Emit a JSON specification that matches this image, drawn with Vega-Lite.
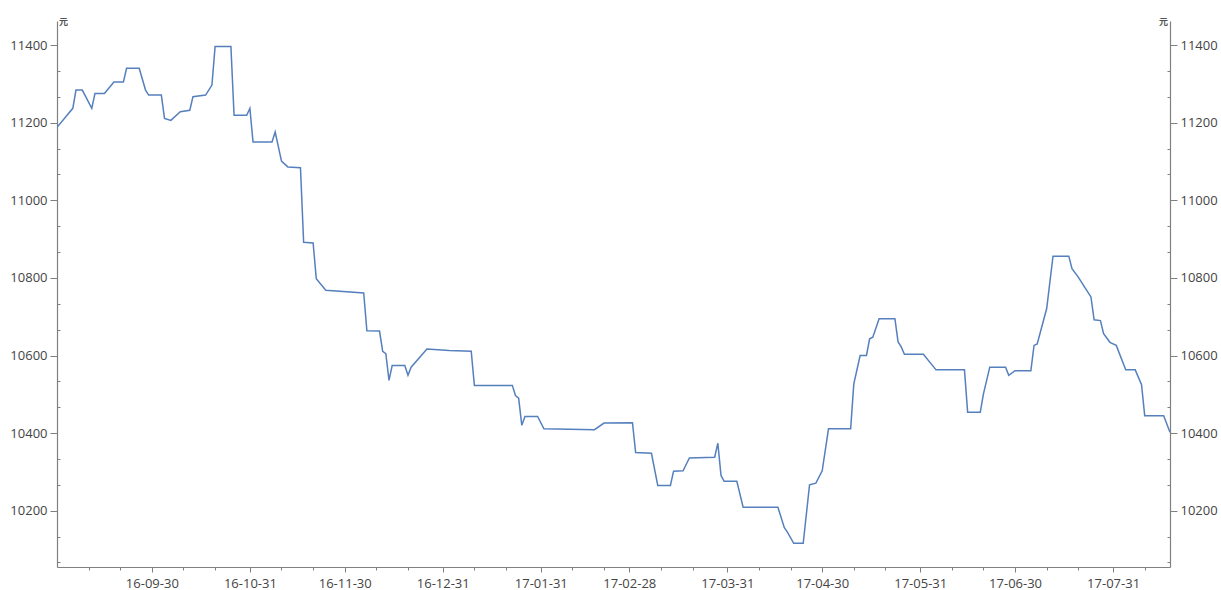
{
  "$schema": "https://vega.github.io/schema/vega-lite/v6.json",
  "autosize": {"type": "none"},
  "padding": {"left": 57, "top": 21, "right": 51, "bottom": 23},
  "width": 1113,
  "height": 546,
  "background": "white",
  "config": {
    "view": {"stroke": null},
    "axis": {
      "grid": false,
      "domainColor": "#808080",
      "domainWidth": 1.2,
      "tickColor": "#808080",
      "tickWidth": 1,
      "labelFont": "Open Sans",
      "labelFontSize": 13,
      "labelColor": "#444444",
      "titleFont": "Noto Sans CJK SC",
      "titleColor": "#555555"
    }
  },
  "data": {
    "values": [
      {"date": "2016-08-31", "price": 11188},
      {"date": "2016-09-05", "price": 11237},
      {"date": "2016-09-06", "price": 11284},
      {"date": "2016-09-08", "price": 11284},
      {"date": "2016-09-11", "price": 11237},
      {"date": "2016-09-12", "price": 11275},
      {"date": "2016-09-15", "price": 11275},
      {"date": "2016-09-18", "price": 11305},
      {"date": "2016-09-21", "price": 11305},
      {"date": "2016-09-22", "price": 11340},
      {"date": "2016-09-26", "price": 11340},
      {"date": "2016-09-28", "price": 11284},
      {"date": "2016-09-29", "price": 11271},
      {"date": "2016-10-03", "price": 11271},
      {"date": "2016-10-04", "price": 11211},
      {"date": "2016-10-06", "price": 11206},
      {"date": "2016-10-09", "price": 11228},
      {"date": "2016-10-12", "price": 11232},
      {"date": "2016-10-13", "price": 11267},
      {"date": "2016-10-17", "price": 11271},
      {"date": "2016-10-19", "price": 11297},
      {"date": "2016-10-20", "price": 11396},
      {"date": "2016-10-25", "price": 11396},
      {"date": "2016-10-26", "price": 11219},
      {"date": "2016-10-30", "price": 11219},
      {"date": "2016-10-31", "price": 11237},
      {"date": "2016-11-01", "price": 11150},
      {"date": "2016-11-07", "price": 11150},
      {"date": "2016-11-08", "price": 11176},
      {"date": "2016-11-10", "price": 11101},
      {"date": "2016-11-12", "price": 11086},
      {"date": "2016-11-16", "price": 11084},
      {"date": "2016-11-17", "price": 10892},
      {"date": "2016-11-20", "price": 10890},
      {"date": "2016-11-21", "price": 10798},
      {"date": "2016-11-24", "price": 10768},
      {"date": "2016-12-06", "price": 10761},
      {"date": "2016-12-07", "price": 10664},
      {"date": "2016-12-11", "price": 10663},
      {"date": "2016-12-12", "price": 10611},
      {"date": "2016-12-13", "price": 10605},
      {"date": "2016-12-14", "price": 10536},
      {"date": "2016-12-15", "price": 10574},
      {"date": "2016-12-19", "price": 10574},
      {"date": "2016-12-20", "price": 10549},
      {"date": "2016-12-21", "price": 10570},
      {"date": "2016-12-26", "price": 10617},
      {"date": "2017-01-02", "price": 10613},
      {"date": "2017-01-09", "price": 10611},
      {"date": "2017-01-10", "price": 10523},
      {"date": "2017-01-22", "price": 10523},
      {"date": "2017-01-23", "price": 10497},
      {"date": "2017-01-24", "price": 10490},
      {"date": "2017-01-25", "price": 10420},
      {"date": "2017-01-26", "price": 10443},
      {"date": "2017-01-30", "price": 10443},
      {"date": "2017-02-01", "price": 10411},
      {"date": "2017-02-17", "price": 10409},
      {"date": "2017-02-20", "price": 10426},
      {"date": "2017-03-01", "price": 10427},
      {"date": "2017-03-02", "price": 10350},
      {"date": "2017-03-07", "price": 10348},
      {"date": "2017-03-09", "price": 10265},
      {"date": "2017-03-13", "price": 10265},
      {"date": "2017-03-14", "price": 10302},
      {"date": "2017-03-17", "price": 10303},
      {"date": "2017-03-19", "price": 10336},
      {"date": "2017-03-27", "price": 10338},
      {"date": "2017-03-28", "price": 10374},
      {"date": "2017-03-29", "price": 10291},
      {"date": "2017-03-30", "price": 10276},
      {"date": "2017-04-03", "price": 10276},
      {"date": "2017-04-05", "price": 10209},
      {"date": "2017-04-16", "price": 10209},
      {"date": "2017-04-18", "price": 10157},
      {"date": "2017-04-19", "price": 10145},
      {"date": "2017-04-21", "price": 10116},
      {"date": "2017-04-24", "price": 10116},
      {"date": "2017-04-26", "price": 10267},
      {"date": "2017-04-28", "price": 10271},
      {"date": "2017-04-30", "price": 10303},
      {"date": "2017-05-02", "price": 10411},
      {"date": "2017-05-09", "price": 10411},
      {"date": "2017-05-10", "price": 10527},
      {"date": "2017-05-12", "price": 10600},
      {"date": "2017-05-14", "price": 10600},
      {"date": "2017-05-15", "price": 10643},
      {"date": "2017-05-16", "price": 10647},
      {"date": "2017-05-18", "price": 10695},
      {"date": "2017-05-23", "price": 10695},
      {"date": "2017-05-24", "price": 10635},
      {"date": "2017-05-25", "price": 10622},
      {"date": "2017-05-26", "price": 10603},
      {"date": "2017-06-01", "price": 10603},
      {"date": "2017-06-05", "price": 10563},
      {"date": "2017-06-14", "price": 10563},
      {"date": "2017-06-15", "price": 10454},
      {"date": "2017-06-19", "price": 10454},
      {"date": "2017-06-20", "price": 10501},
      {"date": "2017-06-22", "price": 10570},
      {"date": "2017-06-27", "price": 10570},
      {"date": "2017-06-28", "price": 10549},
      {"date": "2017-06-30", "price": 10561},
      {"date": "2017-07-05", "price": 10561},
      {"date": "2017-07-06", "price": 10626},
      {"date": "2017-07-07", "price": 10630},
      {"date": "2017-07-10", "price": 10721},
      {"date": "2017-07-12", "price": 10856},
      {"date": "2017-07-17", "price": 10856},
      {"date": "2017-07-18", "price": 10824},
      {"date": "2017-07-20", "price": 10802},
      {"date": "2017-07-22", "price": 10776},
      {"date": "2017-07-24", "price": 10751},
      {"date": "2017-07-25", "price": 10692},
      {"date": "2017-07-27", "price": 10690},
      {"date": "2017-07-28", "price": 10656},
      {"date": "2017-07-30", "price": 10634},
      {"date": "2017-08-01", "price": 10626},
      {"date": "2017-08-04", "price": 10563},
      {"date": "2017-08-07", "price": 10563},
      {"date": "2017-08-09", "price": 10525},
      {"date": "2017-08-10", "price": 10445},
      {"date": "2017-08-16", "price": 10445},
      {"date": "2017-08-18", "price": 10402}
    ]
  },
  "layer": [
    {
      "mark": {"type": "line", "color": "#5580bd", "strokeWidth": 1.5, "clip": true},
      "encoding": {
        "x": {
          "field": "date", "type": "temporal",
          "scale": {"type": "utc", "domain": [{"year": 2016, "month": 8, "date": 31, "utc": true}, {"year": 2017, "month": 8, "date": 18, "utc": true}], "nice": false},
          "axis": {
            "orient": "bottom", "title": null, "labelExpr": "utcFormat(datum.value, '%y-%m-%d')",
            "tickSize": 5, "labelPadding": 5, "labelFlush": false, "labelOverlap": false,
            "values": [
              {"year": 2016, "month": 9, "date": 30, "utc": true},
              {"year": 2016, "month": 10, "date": 31, "utc": true},
              {"year": 2016, "month": 11, "date": 30, "utc": true},
              {"year": 2016, "month": 12, "date": 31, "utc": true},
              {"year": 2017, "month": 1, "date": 31, "utc": true},
              {"year": 2017, "month": 2, "date": 28, "utc": true},
              {"year": 2017, "month": 3, "date": 31, "utc": true},
              {"year": 2017, "month": 4, "date": 30, "utc": true},
              {"year": 2017, "month": 5, "date": 31, "utc": true},
              {"year": 2017, "month": 6, "date": 30, "utc": true},
              {"year": 2017, "month": 7, "date": 31, "utc": true}
            ]
          }
        },
        "y": {
          "field": "price", "type": "quantitative",
          "scale": {"domain": [10055, 11462], "nice": false, "zero": false},
          "axis": {
            "orient": "left", "title": "元", "titleAngle": 0, "titleFontSize": 9,
            "titleX": 6, "titleY": 0, "titleAlign": "center", "titleBaseline": "middle",
            "tickSize": 7, "labelPadding": 3, "format": "d",
            "values": [10200, 10400, 10600, 10800, 11000, 11200, 11400]
          }
        }
      }
    },
    {
      "mark": {"type": "line", "opacity": 0},
      "encoding": {
        "x": {
          "field": "date", "type": "temporal",
          "axis": {
            "orient": "bottom", "title": null, "labels": false, "domain": false,
            "tickSize": 3,
            "values": [
              {"year": 2016, "month": 9, "date": 10, "utc": true},
              {"year": 2016, "month": 9, "date": 20, "utc": true},
              {"year": 2016, "month": 10, "date": 10, "utc": true},
              {"year": 2016, "month": 10, "date": 20, "utc": true},
              {"year": 2016, "month": 11, "date": 10, "utc": true},
              {"year": 2016, "month": 11, "date": 20, "utc": true},
              {"year": 2016, "month": 12, "date": 10, "utc": true},
              {"year": 2016, "month": 12, "date": 20, "utc": true},
              {"year": 2017, "month": 1, "date": 10, "utc": true},
              {"year": 2017, "month": 1, "date": 20, "utc": true},
              {"year": 2017, "month": 2, "date": 10, "utc": true},
              {"year": 2017, "month": 2, "date": 20, "utc": true},
              {"year": 2017, "month": 3, "date": 10, "utc": true},
              {"year": 2017, "month": 3, "date": 20, "utc": true},
              {"year": 2017, "month": 4, "date": 10, "utc": true},
              {"year": 2017, "month": 4, "date": 20, "utc": true},
              {"year": 2017, "month": 5, "date": 10, "utc": true},
              {"year": 2017, "month": 5, "date": 20, "utc": true},
              {"year": 2017, "month": 6, "date": 10, "utc": true},
              {"year": 2017, "month": 6, "date": 20, "utc": true},
              {"year": 2017, "month": 7, "date": 10, "utc": true},
              {"year": 2017, "month": 7, "date": 20, "utc": true},
              {"year": 2017, "month": 8, "date": 10, "utc": true}
            ]
          }
        },
        "y": {
          "field": "price", "type": "quantitative",
          "axis": {
            "orient": "left", "title": null, "labels": false, "domain": false,
            "tickSize": -3,
            "values": [10066.67, 10133.33, 10266.67, 10333.33, 10466.67, 10533.33, 10666.67, 10733.33, 10866.67, 10933.33, 11066.67, 11133.33, 11266.67, 11333.33]
          }
        }
      }
    },
    {
      "mark": {"type": "line", "opacity": 0},
      "encoding": {
        "x": {"field": "date", "type": "temporal", "axis": null},
        "y": {
          "field": "price", "type": "quantitative",
          "axis": {
            "orient": "right", "title": "元", "titleAngle": 0, "titleFontSize": 9,
            "titleX": -7, "titleY": 0, "titleAlign": "center", "titleBaseline": "middle",
            "tickSize": 7, "labelPadding": 3, "format": "d",
            "values": [10200, 10400, 10600, 10800, 11000, 11200, 11400]
          }
        }
      }
    },
    {
      "mark": {"type": "line", "opacity": 0},
      "encoding": {
        "x": {"field": "date", "type": "temporal", "axis": null},
        "y": {
          "field": "price", "type": "quantitative",
          "axis": {
            "orient": "right", "title": null, "labels": false, "domain": false,
            "tickSize": -3,
            "values": [10066.67, 10133.33, 10266.67, 10333.33, 10466.67, 10533.33, 10666.67, 10733.33, 10866.67, 10933.33, 11066.67, 11133.33, 11266.67, 11333.33]
          }
        }
      }
    }
  ],
  "resolve": {"axis": {"x": "independent", "y": "independent"}}
}
